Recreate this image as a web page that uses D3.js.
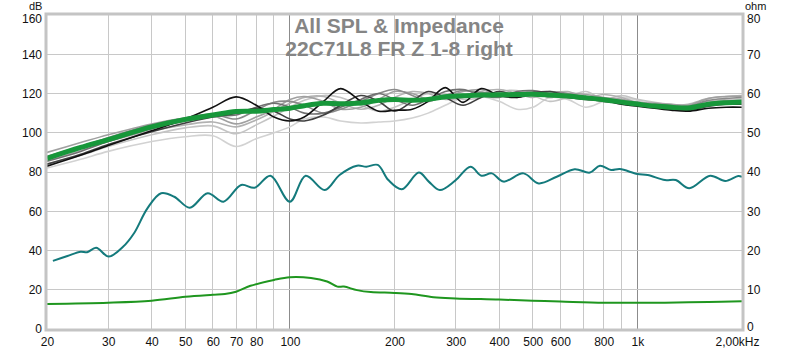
<!DOCTYPE html>
<html lang="en">
<head>
<meta charset="UTF-8">
<title>All SPL & Impedance</title>
<script src="https://cdn.jsdelivr.net/npm/d3@7"></script>
<style>
  body { margin: 0; background: #fff; }
  text { font-family: "Liberation Sans", Arial, sans-serif; }
</style>
</head>
<body>
<script>
// --- data ---------------------------------------------------------------
let xTicks = [20, 30, 40, 50, 60, 70, 80, 100, 200, 300, 400, 500, 600, 800, 1000, 2000];
let xTickLabels = ['20', '30', '40', '50', '60', '70', '80', '100', '200', '300', '400', '500', '600', '800', '1k', '2,00kHz'];
let xGrid = [30, 40, 50, 60, 70, 80, 90, 100, 200, 300, 400, 500, 600, 700, 800, 900, 1000];
let dbTicks = [0, 20, 40, 60, 80, 100, 120, 140, 160];
let ohmTicks = [0, 10, 20, 30, 40, 50, 60, 70, 80];

// frequency points shared by the SPL curves
let splFreq = [20, 25, 30, 40, 50, 60, 70, 80, 90, 100, 110, 125, 140, 160, 180, 200, 225, 250, 280, 315,
  355, 400, 450, 500, 560, 630, 710, 800, 900, 1000, 1120, 1250, 1400, 1600, 1800, 2000];

let spl1 = [83, 88.5, 93.5, 101, 107, 113, 118.3, 114, 108, 106, 108, 116, 122.5, 116, 111, 111.5, 112, 116, 123, 115.5,
  122.5, 119, 118, 120, 119.5, 118, 117, 116.5, 114.5, 113.5, 112.5, 111.5, 111, 112.5, 113, 113];
let spl2 = [84, 89, 94, 100.5, 105, 108, 110, 112.5, 111, 107, 106, 109, 114, 119, 116, 111, 116, 121, 118, 114,
  118, 121, 119, 120.5, 121, 119, 117.5, 116, 115, 114, 113, 112, 111.5, 113.5, 114.5, 114.5];
let spl3 = [85.5, 90.5, 95.5, 102, 106, 108.5, 109, 113, 115, 113, 110, 110, 113, 117, 120, 117, 114, 117, 121, 122,
  119, 118, 121, 121.5, 120, 119, 118.5, 117, 115.5, 114, 113.5, 113, 113, 115, 116, 116];
let spl4 = [88, 93, 97.5, 104, 107.5, 109.5, 107, 111.5, 115.5, 116, 114, 110, 112, 116, 120, 122, 119, 116, 119, 121.5,
  120.5, 120, 118, 119.5, 121, 120, 118, 117.5, 116, 115, 114.5, 114, 113.5, 116.5, 117.5, 118];
let spl5 = [90, 95, 99, 104.5, 107.5, 108.5, 104.5, 108, 112, 117, 118.5, 116, 112, 113, 117, 121, 120, 117, 118, 121,
  122, 119, 120, 121, 118, 120, 119.5, 118, 117, 115.5, 115, 114.5, 114, 117.5, 118.5, 118.5];
let spl6 = [86, 91, 95.5, 101, 104, 105.5, 103, 106.5, 111, 115, 118, 118.5, 115, 112, 114, 118, 121, 120, 117, 118,
  121, 122, 120, 118, 120, 121, 118, 119.5, 118, 115.5, 115, 114, 114.5, 117.5, 118.5, 119];
let spl7 = [84, 88.5, 93, 99, 102.5, 103.5, 99.5, 104, 108.5, 113, 116.5, 119, 118, 114, 111, 113, 117, 120, 119.5, 117,
  118, 121, 121.5, 119, 116, 118, 121, 117, 119, 117, 115.5, 114.5, 114, 116, 117, 117];
let spl8 = [82, 86.5, 90.5, 95.5, 98, 98.5, 93, 97, 100, 103, 107, 108, 106, 105, 105.5, 106, 107.5, 110, 114, 118,
  118.5, 116, 112, 113, 118, 117, 113, 116, 118, 116.5, 114, 113, 113.5, 115.5, 116.5, 117];
let splAvg = [87, 92.5, 96.5, 103, 106.8, 109, 110.8, 111, 111.8, 112.5, 113.8, 115, 114.8, 115.2, 116.5, 117, 116.5, 117, 118.3, 118.8,
  119.2, 119.3, 119.5, 119.6, 119.2, 118.7, 117.8, 116.8, 115.6, 114.6, 113.6, 113, 112.6, 114.5, 115.3, 115.7];

// teal trace (dB scale)
let tealFreq = [20.8, 22.9, 25, 26.1, 27.7, 30.1, 33.1, 35.6, 38.9, 42.6, 46.5, 51.5, 58, 64.4, 72.4, 79.2, 87.9, 100,
  111, 126, 139, 156, 166, 179, 192, 210, 235, 251, 270, 299, 331, 356, 381, 412, 470, 520, 586, 660, 730,
  780, 840, 890, 1000, 1070, 1200, 1290, 1410, 1620, 1790, 1950, 2000];
let tealDb = [34.7, 37.2, 39.4, 39.1, 41.4, 36.9, 41.9, 48.8, 61.5, 69.2, 67.4, 61.8, 69.2, 64.9, 73.4, 72, 78.1, 64.9,
  78.1, 70.8, 78.5, 83.2, 82.7, 83.6, 75.9, 71.2, 79.7, 75.1, 70.8, 75.6, 82.7, 78.1, 79.3, 75.1, 79.3, 74.2, 77.6, 81.4, 79.7,
  83.2, 81, 81.5, 79, 78.5, 75.9, 75.9, 71.7, 78.1, 75.4, 78, 77.6];

// impedance (ohm scale)
let impFreq = [20, 30, 40, 50, 60, 65, 70, 77, 90, 100, 115, 128, 137, 143, 156, 171, 200, 224, 259, 300,
  400, 500, 600, 800, 1000, 1200, 1600, 2000];
let impOhm = [6.4, 6.7, 7.2, 8.2, 8.7, 8.9, 9.5, 11, 12.5, 13.2, 13, 12.1, 10.8, 10.8, 9.9, 9.4, 9.2, 8.9, 8.1, 7.8,
  7.5, 7.2, 7, 6.7, 6.7, 6.7, 6.9, 7.1];

let grayColors = ['#d2d2d2', '#c4c4c4', '#b2b2b2', '#a0a0a0', '#8a8a8a', '#707070', '#404040', '#111111'];
let graySeries = [spl8, spl7, spl6, spl5, spl4, spl3, spl2, spl1];

// --- layout -------------------------------------------------------------
let width = 800;
let height = 350;
let pLeft = 47, pRight = 742, pTop = 15, pBottom = 329;

let svg = d3.select('body')
  .append('svg')
  .attr('width', width)
  .attr('height', height);

let x = d3.scaleLog().domain([20, 2000]).range([pLeft, pRight]);
let yDb = d3.scaleLinear().domain([0, 160]).range([pBottom, pTop]);
let yOhm = d3.scaleLinear().domain([0, 80]).range([pBottom, pTop]);

svg.append('defs').append('clipPath').attr('id', 'plot')
  .append('rect')
  .attr('x', pLeft).attr('y', pTop)
  .attr('width', pRight - pLeft).attr('height', pBottom - pTop);

// grid
let grid = svg.append('g');
grid.selectAll('line.v')
  .data(xGrid)
  .enter().append('line')
  .attr('x1', d => x(d)).attr('x2', d => x(d))
  .attr('y1', pTop).attr('y2', pBottom)
  .attr('stroke', d => (d === 100 || d === 1000) ? '#8c8c8c' : '#c8c8c8')
  .attr('stroke-width', 1)
  .attr('shape-rendering', 'crispEdges');
grid.selectAll('line.h')
  .data(dbTicks.slice(1, -1))
  .enter().append('line')
  .attr('x1', pLeft).attr('x2', pRight)
  .attr('y1', d => yDb(d)).attr('y2', d => yDb(d))
  .attr('stroke', '#c8c8c8')
  .attr('stroke-width', 1)
  .attr('shape-rendering', 'crispEdges');

// axes
let xAxis = d3.axisBottom(x)
  .tickValues(xTicks)
  .tickFormat((d, i) => xTickLabels[i])
  .tickSize(0);
let gx = svg.append('g')
  .attr('transform', 'translate(0,' + pBottom + ')')
  .call(xAxis);
gx.select('.domain').remove();
gx.selectAll('text')
  .attr('dy', 0).attr('y', 17)
  .attr('fill', '#111').style('font-size', '12px');
gx.selectAll('text').filter(d => d === 2000)
  .attr('text-anchor', 'end').attr('x', 17);

let gl = svg.append('g')
  .attr('transform', 'translate(' + pLeft + ',0)')
  .call(d3.axisLeft(yDb).tickValues(dbTicks).tickSize(0).tickPadding(5));
gl.select('.domain').remove();
gl.selectAll('text').attr('fill', '#111').style('font-size', '12px');
gl.selectAll('text').filter(d => d === 160).attr('dy', '0.6em');

let gr = svg.append('g')
  .attr('transform', 'translate(' + pRight + ',0)')
  .call(d3.axisRight(yOhm).tickValues(ohmTicks).tickSize(0).tickPadding(5));
gr.select('.domain').remove();
gr.selectAll('text').attr('fill', '#111').style('font-size', '12px');
gr.selectAll('text').filter(d => d === 80).attr('dy', '0.6em');
gr.selectAll('text').filter(d => d === 0).attr('dy', '0.15em');

svg.append('text').attr('x', 29).attr('y', 10)
  .style('font-size', '11px').attr('fill', '#111').text('dB');
svg.append('text').attr('x', 745).attr('y', 10)
  .style('font-size', '11px').attr('fill', '#111').text('ohm');

// title
let title = svg.append('g').attr('fill', '#858585')
  .style('font-size', '21px').style('font-weight', 'bold')
  .attr('text-anchor', 'middle');
title.append('text').attr('x', 399).attr('y', 33).text('All SPL & Impedance');
title.append('text').attr('x', 399).attr('y', 56).text('22C71L8 FR Z 1-8 right');

// curves
let plot = svg.append('g').attr('clip-path', 'url(#plot)');
let splLine = d3.line()
  .x((d, i) => x(splFreq[i]))
  .y(d => yDb(d))
  .curve(d3.curveCatmullRom.alpha(0.5));

graySeries.forEach(function (s, k) {
  plot.append('path')
    .datum(s)
    .attr('d', splLine)
    .attr('fill', 'none')
    .attr('stroke', grayColors[k])
    .attr('stroke-width', 1.6);
});

plot.append('path')
  .datum(splAvg)
  .attr('d', splLine)
  .attr('fill', 'none')
  .attr('stroke', '#17973a')
  .attr('stroke-width', 5);

plot.append('path')
  .datum(tealDb)
  .attr('d', d3.line()
    .x((d, i) => x(tealFreq[i]))
    .y(d => yDb(d))
    .curve(d3.curveCatmullRom.alpha(0.5)))
  .attr('fill', 'none')
  .attr('stroke', '#147a7c')
  .attr('stroke-width', 2);

plot.append('path')
  .datum(impOhm)
  .attr('d', d3.line()
    .x((d, i) => x(impFreq[i]))
    .y(d => yOhm(d))
    .curve(d3.curveCatmullRom.alpha(0.5)))
  .attr('fill', 'none')
  .attr('stroke', '#1f961f')
  .attr('stroke-width', 2);

// plot frame
svg.append('rect')
  .attr('x', pLeft - 1).attr('y', pTop - 1)
  .attr('width', pRight - pLeft + 2).attr('height', pBottom - pTop + 2)
  .attr('fill', 'none')
  .attr('stroke', '#c4c4c4')
  .attr('stroke-width', 3);
</script>
</body>
</html>
